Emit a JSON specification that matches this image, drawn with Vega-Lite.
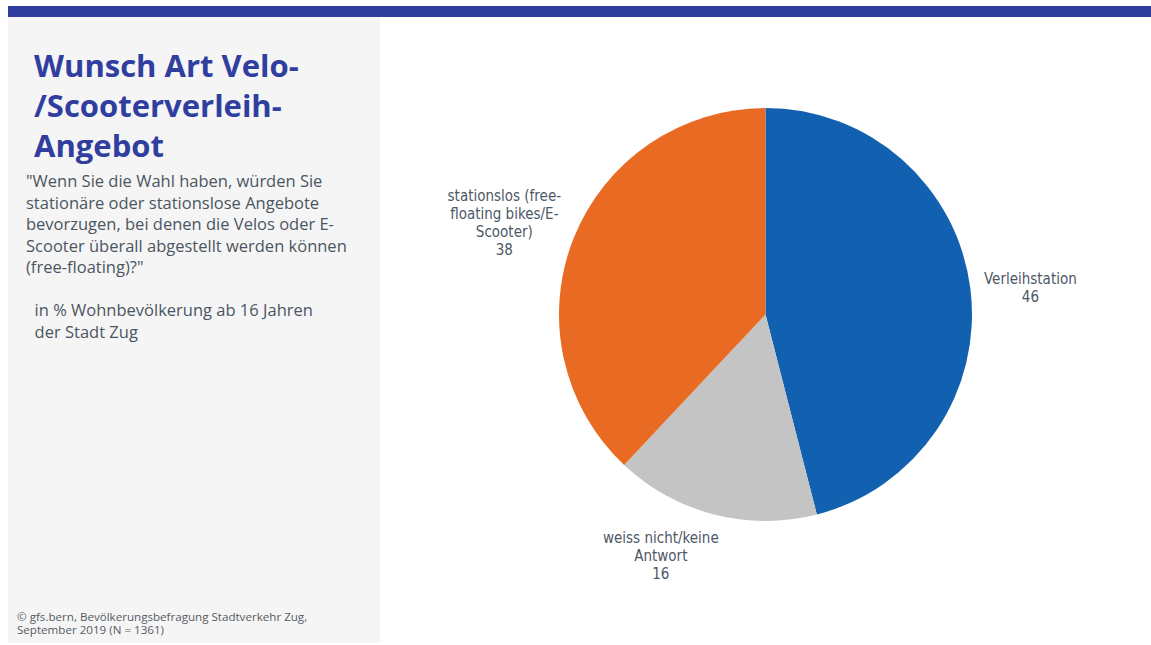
{
  "$schema": "https://vega.github.io/schema/vega-lite/v6.json",
  "background": "white",
  "padding": {"left": 8, "top": 5, "right": 0, "bottom": 0},
  "spacing": 0,
  "config": {"view": {"stroke": null}, "concat": {"spacing": 0}},
  "vconcat": [
    {
      "width": 1143,
      "height": 11,
      "view": {"fill": "#2f3e9d", "stroke": null},
      "data": {"values": [{"t": ""}]},
      "mark": {"type": "text"},
      "encoding": {"text": {"field": "t"}}
    },
    {
      "spacing": 0,
      "hconcat": [
        {
          "width": 372,
          "height": 626,
          "view": {"fill": "#f5f5f5", "stroke": null},
          "title": {
            "text": ["\u200b\u00a0Wunsch Art Velo-", "\u200b\u00a0/Scooterverleih-", "\u200b\u00a0Angebot"],
            "subtitle": [
              "\"Wenn Sie die Wahl haben, würden Sie",
              "stationäre oder stationslose Angebote",
              "bevorzugen, bei denen die Velos oder E-",
              "Scooter überall abgestellt werden können",
              "(free-floating)?\"",
              "\u200b",
              "\u200b\u00a0\u00a0in % Wohnbevölkerung ab 16 Jahren",
              "\u200b\u00a0\u00a0der Stadt Zug"
            ],
            "anchor": "start",
            "frame": "group",
            "orient": "top",
            "dx": 18,
            "offset": -325,
            "font": "Open Sans",
            "fontSize": 31,
            "fontWeight": "bold",
            "color": "#303f9f",
            "lineHeight": 40,
            "subtitleFont": "Open Sans",
            "subtitleFontSize": 16.5,
            "subtitleColor": "#4b5561",
            "subtitleLineHeight": 21.5,
            "subtitlePadding": 10
          },
          "data": {"values": [{"src": "© gfs.bern, Bevölkerungsbefragung Stadtverkehr Zug,\nSeptember 2019 (N = 1361)"}]},
          "mark": {"type": "text", "align": "left", "baseline": "bottom", "lineBreak": "\n", "font": "Open Sans", "fontSize": 11.6, "lineHeight": 13, "color": "#555b63", "dx": 9, "dy": -20},
          "encoding": {
            "x": {"datum": 0, "type": "quantitative", "scale": {"domain": [0, 1]}, "axis": null},
            "y": {"datum": 0, "type": "quantitative", "scale": {"domain": [0, 1]}, "axis": null},
            "text": {"field": "src"}
          }
        },
        {
          "width": 771,
          "height": 595,
          "data": {
            "values": [
              {"category": "Verleihstation", "label": "Verleihstation", "value": 46, "rank": 1},
              {"category": "weiss nicht/keine Antwort", "label": "weiss nicht/keine\nAntwort", "value": 16, "rank": 2},
              {"category": "stationslos (free-floating bikes/E-Scooter)", "label": "stationslos (free-\nfloating bikes/E-\nScooter)", "value": 38, "rank": 3}
            ]
          },
          "transform": [{"calculate": "datum.label + '\\n' + datum.value", "as": "lbl"}],
          "encoding": {
            "theta": {"field": "value", "type": "quantitative", "stack": true},
            "order": {"field": "rank", "type": "quantitative"}
          },
          "layer": [
            {
              "mark": {"type": "arc", "radius": 206.5},
              "encoding": {
                "color": {
                  "field": "category",
                  "type": "nominal",
                  "scale": {
                    "domain": ["Verleihstation", "weiss nicht/keine Antwort", "stationslos (free-floating bikes/E-Scooter)"],
                    "range": ["#1261b0", "#c4c4c4", "#e86a23"]
                  },
                  "legend": null
                }
              }
            },
            {
              "mark": {"type": "text", "radius": 268, "font": "DejaVu Sans Condensed, sans-serif", "fontSize": 15, "lineHeight": 18, "lineBreak": "\n", "align": "center", "baseline": "middle", "color": "#4d5866", "dx": -1, "dy": -2},
              "encoding": {"text": {"condition": {"test": "datum.category === 'Verleihstation'", "field": "lbl"}, "value": ""}}
            },
            {
              "mark": {"type": "text", "radius": 268, "font": "DejaVu Sans Condensed, sans-serif", "fontSize": 15, "lineHeight": 18, "lineBreak": "\n", "align": "center", "baseline": "middle", "color": "#4d5866", "dx": -12, "dy": -20},
              "encoding": {"text": {"condition": {"test": "datum.category === 'stationslos (free-floating bikes/E-Scooter)'", "field": "lbl"}, "value": ""}}
            },
            {
              "mark": {"type": "text", "radius": 268, "font": "DejaVu Sans Condensed, sans-serif", "fontSize": 15, "lineHeight": 18, "lineBreak": "\n", "align": "center", "baseline": "middle", "color": "#4d5866", "dx": -38, "dy": -36},
              "encoding": {"text": {"condition": {"test": "datum.category === 'weiss nicht/keine Antwort'", "field": "lbl"}, "value": ""}}
            }
          ]
        }
      ]
    },
    {
      "width": 1143,
      "height": 3,
      "view": {"fill": "#d4d4d4", "stroke": null},
      "data": {"values": [{"t": ""}]},
      "mark": {"type": "text"},
      "encoding": {"text": {"field": "t"}}
    }
  ]
}
